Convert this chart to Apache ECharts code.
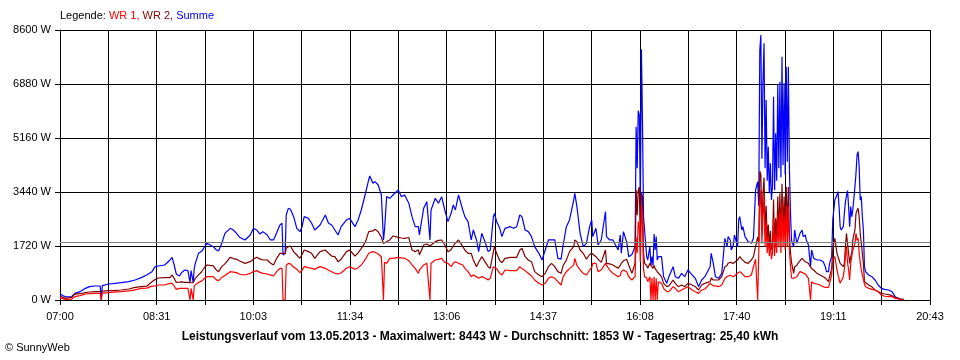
<!DOCTYPE html>
<html><head><meta charset="utf-8">
<script src="https://cdn.jsdelivr.net/npm/echarts@6/dist/echarts.min.js"></script>
<style>html,body{margin:0;padding:0;background:#fff}#c{width:960px;height:360px}</style>
</head><body><div id="c"></div>
<script>
// Sample times (HH:MM)
const times = [
'07:00','07:05','07:11','07:14','07:19','07:24','07:28','07:33','07:38','07:39','07:40','07:41','07:46','07:50','07:58','08:05','08:11','08:17','08:22','08:27','08:30','08:33','08:39','08:44','08:46','08:48','08:50','08:53','08:55','08:58','09:01','09:03','09:04','09:06','09:07','09:08','09:11','09:14','09:17',
'09:19','09:22','09:25','09:28','09:30','09:33','09:36','09:41','09:44','09:47','09:50','09:55','10:00','10:03','10:06','10:09','10:12','10:16','10:19','10:22','10:25','10:28','10:30','10:31','10:33','10:34','10:36','10:38','10:41','10:44','10:47','10:49','10:51','10:55','10:58','11:01','11:06','11:11','11:14','11:17','11:20','11:23','11:26','11:31','11:34',
'11:39','11:42','11:45','11:49','11:52','11:53','11:56','11:58','12:01','12:04','12:06','12:07','12:09','12:12','12:15','12:20','12:23','12:26','12:30','12:33','12:36','12:39','12:40','12:44','12:47','12:50','12:51','12:55','12:58','13:01','13:04','13:07','13:10','13:12','13:14','13:17','13:21','13:23','13:26','13:29','13:31','13:34','13:36','13:39','13:42','13:45','13:47','13:50','13:51',
'13:53','13:56','13:58','14:01','14:06','14:09','14:12','14:15','14:17','14:20','14:23','14:26','14:29','14:33','14:36','14:39','14:42','14:45','14:48','14:51','14:54','14:56','14:59','15:02','15:06','15:07','15:09','15:12','15:15','15:18','15:21','15:23','15:24','15:27','15:29','15:32','15:36','15:37','15:40','15:43','15:48','15:50','15:51','15:53','15:56','15:58','16:01','16:04',
'16:05','16:06','16:07','16:08','16:09','16:10','16:11','16:12',
'16:13','16:15','16:16','16:18','16:19','16:20','16:21','16:22','16:23','16:24','16:25','16:26','16:29','16:31','16:34','16:36','16:40','16:42','16:45','16:48','16:51','16:54','16:58','17:01','17:04','17:07','17:10','17:15','17:16','17:18','17:20','17:23','17:26','17:29','17:31','17:32','17:34','17:35','17:37','17:38','17:41','17:42','17:43','17:45','17:46','17:48','17:51','17:54','17:56',
'17:58','18:00','18:01','18:02','18:03','18:04','18:05','18:06','18:07','18:08','18:09','18:10','18:11','18:12','18:13','18:14','18:15','18:16','18:17','18:18','18:19','18:20','18:21','18:22','18:23','18:24','18:25','18:26','18:27','18:28','18:29','18:30','18:31','18:32',
'18:34','18:35','18:37','18:38','18:40','18:42','18:43','18:45','18:46','18:48','18:49','18:50','18:51','18:53','18:56','18:59','19:02','19:04','19:05','19:07','19:08','19:10','19:11','19:12','19:13','19:15','19:16','19:17','19:18','19:19','19:21','19:22','19:23','19:24','19:25','19:26','19:27','19:28','19:29','19:30','19:32','19:33','19:34','19:35','19:36','19:37','19:38','19:39','19:40','19:41','19:42','19:45','19:48','19:51','19:54','19:57','20:00','20:04','20:07','20:10','20:13','20:15','20:18'
];
// WR 1 (W)
const wr1 = [
75,20,30,106,140,191,200,212,212,0,220,230,234,250,266,290,320,372,380,440,446,478,478,531,531,446,340,372,372,372,372,0,372,0,450,478,560,600,700,
743,743,743,640,616,720,780,903,890,871,820,797,850,903,935,880,850,828,800,765,903,1009,1009,0,0,1100,1168,1150,1050,977,871,950,1062,1030,1009,977,1062,1009,950,900,850,828,870,1009,1062,
977,1030,1115,1300,1487,1487,1540,1520,1466,1380,0,1200,1168,1328,1328,1359,1340,1328,1253,1115,1009,850,950,1115,1168,0,1168,1274,1296,1328,1200,1168,1062,1168,1221,1168,1115,1009,903,743,800,743,690,743,700,637,690,1062,1115,
1000,850,797,956,935,935,935,1062,1000,935,850,765,637,531,478,531,690,743,690,584,478,743,900,1000,1120,1328,1100,956,850,797,956,1030,1168,1168,903,956,1168,1100,956,850,743,780,903,956,900,743,637,743,
2000,1500,2500,2300,1200,3000,2400,1000,
743,700,584,743,0,700,0,743,0,690,0,584,531,372,265,265,425,372,265,319,372,425,319,265,212,319,350,531,531,450,450,425,478,690,750,797,790,780,743,800,850,903,903,850,800,743,743,797,1062,
1300,0,0,3000,3500,1800,2700,3300,1700,2500,1500,2000,1400,1800,1300,1500,2600,1400,2100,1500,2700,1700,2800,1500,3100,1700,2700,1600,3000,1700,3000,1600,1100,700,
690,743,743,800,903,880,850,830,797,690,637,0,584,531,510,478,425,400,372,400,531,800,1274,1300,1380,956,800,743,531,478,743,1000,1400,1699,1200,956,637,1168,1200,1593,1805,2124,1900,1965,1487,1200,956,800,743,510,420,372,340,319,265,159,120,106,106,53,32,20,10
];
// WR 2 (W)
const wr2 = [
127,50,85,190,200,234,255,266,266,266,280,290,297,300,319,350,400,425,440,580,650,700,712,712,797,690,560,570,580,560,560,550,560,550,620,690,800,900,1050,
1115,1100,1090,950,903,1062,1150,1359,1320,1296,1240,1168,1221,1300,1359,1310,1274,1274,1180,1115,1328,1487,1487,1487,1480,1646,1699,1720,1540,1434,1328,1450,1593,1540,1487,1328,1540,1593,1487,1400,1380,1221,1300,1540,1593,
1402,1500,1646,1850,2180,2230,2200,2251,2177,2000,1800,1830,1858,1912,2039,1997,1975,1965,1990,1593,1540,1600,1434,1752,1784,1720,1720,1858,1900,1912,1760,1540,1600,1720,1810,1912,1700,1593,1487,1487,1274,1062,1200,1380,1221,1062,1009,1540,1699,
1487,1250,1189,1328,1359,1359,1359,1593,1646,1380,1274,1221,903,797,743,850,1062,1168,1062,903,850,1100,1270,1540,1700,1912,1860,1593,1487,1300,1450,1487,1520,1380,1300,1200,1593,1168,1150,1115,1009,1100,1168,1250,1300,1115,850,1168,
3500,2700,3500,3600,1800,3400,3300,1500,
1168,1100,1009,1168,1100,1062,1009,1100,1000,956,900,850,743,531,425,450,637,531,425,478,425,531,478,425,319,478,530,584,700,637,637,637,743,1062,1100,1168,1200,1221,1168,1168,1274,1300,1380,1300,1274,1200,1168,1274,1380,
1700,2000,1800,4100,4000,2300,3400,3900,2100,3000,1900,2400,1700,2200,1600,1800,3200,1700,2600,1900,3300,2000,3400,1900,3700,2100,3300,2000,3600,2200,3600,2100,1500,1200,
850,1062,1100,1168,1250,1328,1300,1221,1200,1168,1100,1060,1000,956,850,797,743,700,690,584,743,1000,1600,1805,1965,1487,1380,1275,1168,1221,1062,1168,1700,2124,1800,1487,1168,1380,1500,1912,2230,2761,2850,2920,2655,2124,1800,1487,1168,584,560,478,420,319,260,212,191,170,138,85,53,30,20
];
// Summe (W)
const summe = [
190,100,106,212,266,372,425,446,446,0,460,478,510,520,552,584,637,712,797,903,1062,1083,1115,1274,1359,1115,828,765,871,956,935,560,935,560,1009,1168,1487,1550,1700,
1805,1752,1699,1593,1560,1805,2124,2283,2230,2124,1997,1912,2071,2283,2230,2103,2177,2071,1912,1912,2145,2390,2443,1434,1487,2708,2920,2889,2655,2283,2177,2336,2655,2602,2443,2230,2390,2708,2443,2390,2230,2071,2336,2549,2602,
2336,2549,2867,3400,3823,3950,3717,3770,3664,3345,1912,2230,3292,3239,3345,3505,3292,3345,3080,2655,2336,2336,2071,2920,3133,1912,2867,3239,3080,3292,2867,2496,2761,3027,2867,3345,2867,2655,2496,1912,2230,1912,1540,2124,1858,1540,1593,2655,2761,
2500,2283,2018,2283,2336,2283,2336,2708,2655,2230,2177,2018,1699,1487,1274,1593,1912,1912,1912,1328,1300,1752,2336,2549,3186,3398,2974,2124,1699,1805,2336,2549,2018,2283,1752,1912,2814,2018,1912,1912,1593,2071,1487,2177,1858,1380,1450,1699,
5520,4200,6030,5893,3000,7985,5765,2653,
2230,1380,1274,1699,1100,1380,1100,2103,1593,2018,1274,1380,1380,743,531,743,1062,743,690,850,743,956,797,690,425,637,743,1062,1487,1168,743,690,850,1965,1699,2018,1912,1593,1752,2071,1699,2549,2655,2230,2336,2018,1858,1805,1965,
3504,3769,3000,7962,8443,4500,6954,8174,4200,6370,3800,4883,3400,4352,3185,3610,6476,3500,5308,3800,6848,4200,6954,3900,7750,4300,6901,4000,7431,4400,7431,4200,2800,1900,
1699,2230,1805,1752,2124,2230,2018,2071,1912,1752,1400,1062,1593,1328,1274,1274,1221,1062,903,903,1168,1380,2549,2867,3186,3345,3452,2974,2336,2230,2336,2761,3133,3186,3483,2974,2336,2974,2655,2867,3611,4036,4620,4726,4248,3186,3292,2655,2230,1062,903,797,743,637,478,372,340,319,265,106,53,32,20
];
const xTickLabels = ['07:00','08:31','10:03','11:34','13:06','14:37','16:08','17:40','19:11','20:43'];
const yTicks = [0,1720,3440,5160,6880,8600];
const average = 1853;
const startTime = '07:00';
const endTime = '20:43';
const footerText = 'Leistungsverlauf vom 13.05.2013 - Maximalwert: 8443 W - Durchschnitt: 1853 W - Tagesertrag: 25,40 kWh';
const copyrightText = '\u00A9 SunnyWeb';

const FONT = '"Liberation Sans", Arial, sans-serif';
const SUB = 18; // x unit = 1/18 minute, so each grid step is a whole number
function mins(t){ const p = t.split(':').map(Number); return p[0]*60 + p[1]; }
const t0 = mins(startTime);
const span = (mins(endTime) - t0) * SUB;
const step = span / 18;
const xs = times.map(t => (mins(t) - t0) * SUB);
const pts = arr => xs.map((x, i) => [x, arr[i]]);

const chart = echarts.init(document.getElementById('c'), null, {renderer: 'canvas'});
const lineSeries = (name, arr, color) => ({
  name, type: 'line', data: pts(arr), symbol: 'none', showSymbol: false,
  lineStyle: {color, width: 1.2}, itemStyle: {color}, emphasis: {disabled: true},
  silent: true, animation: false
});
chart.setOption({
  animation: false,
  backgroundColor: '#fff',
  textStyle: {fontFamily: FONT},
  title: [
    {text: '{k|Legende: }{r|WR 1, }{d|WR 2, }{b|Summe}', left: 60, top: 10, padding: 0,
     textStyle: {fontSize: 11, fontWeight: 'normal', fontFamily: FONT,
       rich: {k: {color: '#000', fontSize: 11, fontFamily: FONT}, r: {color: '#ff0000', fontSize: 11, fontFamily: FONT},
              d: {color: '#800000', fontSize: 11, fontFamily: FONT}, b: {color: '#0000ff', fontSize: 11, fontFamily: FONT}}}},
    {text: footerText, left: 'center', top: 331, padding: 0,
     textStyle: {fontSize: 12, fontWeight: 'bold', color: '#000', fontFamily: FONT}},
    {text: copyrightText, left: 5, top: 342, padding: 0,
     textStyle: {fontSize: 11, fontWeight: 'normal', color: '#000', fontFamily: FONT}}
  ],
  grid: {left: 60, right: 30, top: 30, bottom: 60, containLabel: false},
  xAxis: {
    type: 'value', min: 0, max: span, interval: step,
    axisLine: {show: true, lineStyle: {color: '#000', width: 1}},
    axisTick: {show: true, length: 5, lineStyle: {color: '#000', width: 1}},
    splitLine: {show: true, lineStyle: {color: '#000', width: 1}},
    axisLabel: {show: true, interval: 0, margin: 11, color: '#000', fontSize: 11, fontFamily: FONT,
      showMinLabel: true, showMaxLabel: true,
      formatter: v => { const i = Math.round(v / step); return i % 2 === 0 ? (xTickLabels[i/2] || '') : ''; }}
  },
  yAxis: {
    type: 'value', min: yTicks[0], max: yTicks[yTicks.length-1], interval: yTicks[1] - yTicks[0],
    axisLine: {show: true, lineStyle: {color: '#000', width: 1}},
    axisTick: {show: true, length: 5, lineStyle: {color: '#000', width: 1}},
    splitLine: {show: true, lineStyle: {color: '#000', width: 1}},
    axisLabel: {margin: 9, color: '#000', fontSize: 11, fontFamily: FONT, formatter: v => v + ' W'}
  },
  series: [
    {type: 'line', data: [], silent: true,
     markLine: {silent: true, symbol: ['none','none'], animation: false,
       label: {show: false}, lineStyle: {color: '#808080', type: 'solid', width: 1},
       emphasis: {disabled: true}, data: [{yAxis: average}]}},
    lineSeries('Summe', summe, '#0000ff'),
    lineSeries('WR 2', wr2, '#800000'),
    lineSeries('WR 1', wr1, '#ff0000')
  ]
});
</script>
</body></html>
